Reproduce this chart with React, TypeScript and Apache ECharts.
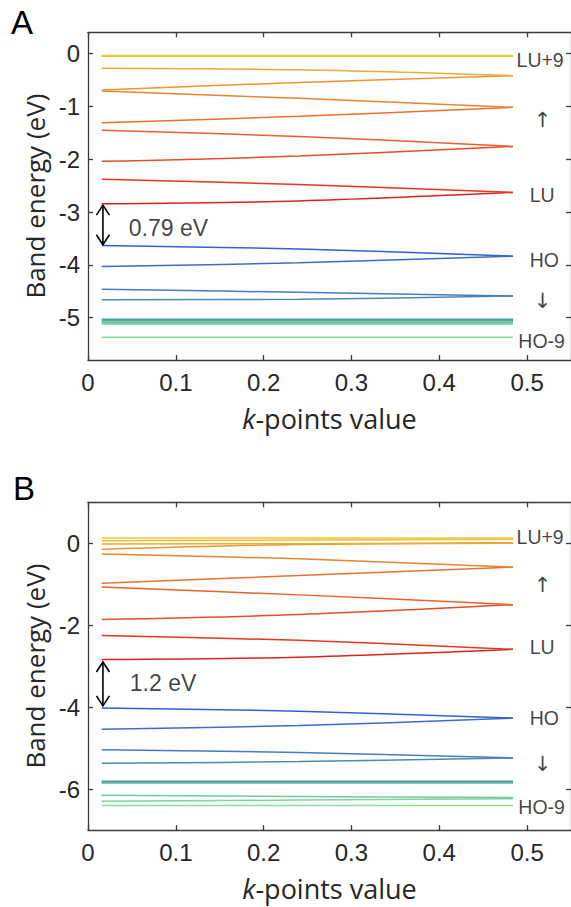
import React, { useEffect, useRef } from "react";
import * as echarts from "echarts";

// k-points sampled along each band (left end, middle, right end)
const K_POINTS = [0.0156, 0.24, 0.484];
const X_TICKS = [0, 0.1, 0.2, 0.3, 0.4, 0.5];
const X_RANGE = [0, 0.55];

// Panel A
const Y_RANGE_A = [-5.8, 0.4];
const Y_TICKS_A = [-5, -4, -3, -2, -1, 0];
// valence bands, HO-9 ... HO
const VALENCE_A = [
  [-5.37, -5.37, -5.37],
  [-5.12, -5.12, -5.12],
  [-5.1, -5.1, -5.1],
  [-5.08, -5.08, -5.08],
  [-5.05, -5.05, -5.05],
  [-5.03, -5.03, -5.03],
  [-4.66, -4.65, -4.59],
  [-4.46, -4.52, -4.59],
  [-4.03, -3.96, -3.835],
  [-3.635, -3.7, -3.835],
];
// conduction bands, LU ... LU+9
const CONDUCTION_A = [
  [-2.845, -2.79, -2.63],
  [-2.38, -2.48, -2.63],
  [-2.04, -1.94, -1.76],
  [-1.455, -1.57, -1.76],
  [-1.31, -1.19, -1.02],
  [-0.71, -0.85, -1.02],
  [-0.69, -0.55, -0.42],
  [-0.28, -0.31, -0.42],
  [-0.055, -0.055, -0.055],
  [-0.04, -0.04, -0.04],
];
const GAP_A = [0.017, -2.87, -3.62];
const GAP_TEXT_A = { text: "0.79 eV", k: 0.0464, e: -3.296 };
const LABELS_A = [
  { text: "LU+9", k: 0.488, e: -0.13, align: "left" },
  { text: "↑", k: 0.5176, e: -1.26, align: "center" },
  { text: "LU", k: 0.503, e: -2.67, align: "left" },
  { text: "HO", k: 0.503, e: -3.9, align: "left" },
  { text: "↓", k: 0.5176, e: -4.69, align: "center" },
  { text: "HO-9", k: 0.49, e: -5.44, align: "left" },
];

// Panel B
const Y_RANGE_B = [-7, 1];
const Y_TICKS_B = [-6, -4, -2, 0];
const VALENCE_B = [
  [-6.4, -6.4, -6.4],
  [-6.3, -6.27, -6.235],
  [-6.15, -6.18, -6.21],
  [-5.85, -5.85, -5.85],
  [-5.83, -5.83, -5.83],
  [-5.81, -5.81, -5.81],
  [-5.37, -5.33, -5.24],
  [-5.04, -5.11, -5.24],
  [-4.54, -4.45, -4.27],
  [-4.02, -4.1, -4.27],
];
const CONDUCTION_B = [
  [-2.84, -2.78, -2.59],
  [-2.25, -2.37, -2.59],
  [-1.86, -1.74, -1.5],
  [-1.07, -1.26, -1.5],
  [-0.975, -0.79, -0.585],
  [-0.26, -0.38, -0.585],
  [-0.145, -0.03, 0.0],
  [-0.02, -0.01, 0.01],
  [0.06, 0.08, 0.1],
  [0.13, 0.13, 0.13],
];
const GAP_B = [0.017, -2.9, -3.97];
const GAP_TEXT_B = { text: "1.2 eV", k: 0.0476, e: -3.42 };
const LABELS_B = [
  { text: "LU+9", k: 0.488, e: 0.165, align: "left" },
  { text: "↑", k: 0.5176, e: -1.03, align: "center" },
  { text: "LU", k: 0.503, e: -2.54, align: "left" },
  { text: "HO", k: 0.503, e: -4.26, align: "left" },
  { text: "↓", k: 0.5176, e: -5.38, align: "center" },
  { text: "HO-9", k: 0.49, e: -6.44, align: "left" },
];

const VALENCE_COLORS = [
  "#86e29a", "#7dd6a0", "#72c9a0", "#5fb5a0", "#55a8a0",
  "#4c9c9e", "#4b8bb3", "#477dbd", "#3e6dc8", "#3262d0",
];
const CONDUCTION_COLORS = [
  "#e0221c", "#e33a1f", "#e44e25", "#e6622a", "#e8722c",
  "#ea842f", "#ec9632", "#eeaa35", "#f0bc36", "#f2c832",
];

const TICK_FONT = "'Liberation Sans', Arial, sans-serif";
const NAME_FONT = "'Open Sans', 'Noto Sans', sans-serif";
const ARROW_FONT = "'DejaVu Sans', sans-serif";
const TEXT_COLOR = "#262626";
const AXIS_COLOR = "#3a3a3a";

function axisX(gridIndex: number, position: "bottom" | "top", showLabels: boolean) {
  return {
    type: "value",
    gridIndex,
    position,
    min: X_RANGE[0],
    max: X_RANGE[1],
    interval: 0.1,
    name: showLabels ? "{i|k}-points value" : "",
    nameLocation: "middle",
    nameGap: 45,
    nameTextStyle: {
      fontFamily: NAME_FONT,
      fontSize: 27,
      color: TEXT_COLOR,
      rich: {
        i: { fontFamily: NAME_FONT, fontSize: 27, fontStyle: "italic", color: TEXT_COLOR },
      },
    },
    axisLine: { show: true, onZero: false, lineStyle: { color: AXIS_COLOR, width: 1.3 } },
    axisTick: { show: true, inside: true, length: 5, customValues: X_TICKS, lineStyle: { color: AXIS_COLOR, width: 1.3 } },
    axisLabel: {
      show: showLabels,
      customValues: X_TICKS,
      margin: 10,
      fontFamily: TICK_FONT,
      fontSize: 24,
      color: TEXT_COLOR,
    },
    splitLine: { show: false },
  };
}

function axisY(gridIndex: number, position: "left" | "right", showLabels: boolean, range: number[], ticks: number[]) {
  return {
    type: "value",
    gridIndex,
    position,
    min: range[0],
    max: range[1],
    name: showLabels ? "Band energy (eV)" : "",
    nameLocation: "middle",
    nameGap: 38,
    nameTextStyle: { fontFamily: NAME_FONT, fontSize: 26, color: TEXT_COLOR },
    axisLine: { show: true, onZero: false, lineStyle: { color: AXIS_COLOR, width: 1.3 } },
    axisTick: { show: true, inside: true, length: 5, customValues: ticks, lineStyle: { color: AXIS_COLOR, width: 1.3 } },
    axisLabel: {
      show: showLabels,
      customValues: ticks,
      margin: 8,
      fontFamily: TICK_FONT,
      fontSize: 24,
      color: TEXT_COLOR,
    },
    splitLine: { show: false },
  };
}

function bandSeries(axisIndex: number, bands: number[][], colors: string[]) {
  return bands.map((band, i) => ({
    type: "line",
    xAxisIndex: axisIndex,
    yAxisIndex: axisIndex,
    data: K_POINTS.map((k, j) => [k, band[j]]),
    showSymbol: false,
    symbol: "none",
    smooth: 0.35,
    silent: true,
    lineStyle: { width: 1.5, color: colors[i] },
    z: 2,
  }));
}

function gapSeries(axisIndex: number, gap: number[], text: { text: string; k: number; e: number }) {
  return [
    {
      type: "custom",
      xAxisIndex: axisIndex,
      yAxisIndex: axisIndex,
      silent: true,
      z: 5,
      data: [gap],
      renderItem: (_params: any, api: any) => {
        const p1 = api.coord([api.value(0), api.value(1)]);
        const p2 = api.coord([api.value(0), api.value(2)]);
        const st = { stroke: "#000", lineWidth: 1.6, fill: null };
        return {
          type: "group",
          children: [
            { type: "line", shape: { x1: p1[0], y1: p1[1], x2: p2[0], y2: p2[1] }, style: st },
            {
              type: "polyline",
              shape: { points: [[p1[0] - 6.5, p1[1] + 10], [p1[0], p1[1]], [p1[0] + 6.5, p1[1] + 10]] },
              style: st,
            },
            {
              type: "polyline",
              shape: { points: [[p2[0] - 6.5, p2[1] - 10], [p2[0], p2[1]], [p2[0] + 6.5, p2[1] - 10]] },
              style: st,
            },
          ],
        };
      },
    },
    {
      type: "scatter",
      xAxisIndex: axisIndex,
      yAxisIndex: axisIndex,
      silent: true,
      symbolSize: 0,
      z: 5,
      data: [{ value: [text.k, text.e], name: text.text }],
      label: {
        show: true,
        position: [0, 0],
        align: "left",
        verticalAlign: "middle",
        formatter: "{b}",
        fontFamily: TICK_FONT,
        fontSize: 23,
        color: "#111",
      },
    },
  ];
}

function labelSeries(axisIndex: number, labels: { text: string; k: number; e: number; align: string }[]) {
  return labels.map((l) => {
    const isArrow = l.align === "center";
    return {
      type: "scatter",
      xAxisIndex: axisIndex,
      yAxisIndex: axisIndex,
      silent: true,
      symbolSize: 0,
      z: 6,
      data: [{ value: [l.k, l.e], name: l.text }],
      label: {
        show: true,
        position: [0, 0],
        align: l.align,
        verticalAlign: "middle",
        formatter: "{b}",
        fontFamily: isArrow ? ARROW_FONT : TICK_FONT,
        fontSize: isArrow ? 21 : 19.5,
        color: "#111111",
      },
    };
  });
}

export default function App() {
  const ref = useRef<HTMLDivElement>(null);
  useEffect(() => {
    if (!ref.current) return;
    const chart = echarts.init(ref.current, null, { renderer: "svg" });
    const option = {
      animation: false,
      backgroundColor: "#ffffff",
      grid: [
        { left: 88, right: -3, top: 32.3, bottom: 547 },
        { left: 88, right: -3, top: 502.3, bottom: 77 },
      ],
      xAxis: [
        axisX(0, "bottom", true),
        axisX(0, "top", false),
        axisX(1, "bottom", true),
        axisX(1, "top", false),
      ],
      yAxis: [
        axisY(0, "left", true, Y_RANGE_A, Y_TICKS_A),
        axisY(0, "right", false, Y_RANGE_A, Y_TICKS_A),
        axisY(1, "left", true, Y_RANGE_B, Y_TICKS_B),
        axisY(1, "right", false, Y_RANGE_B, Y_TICKS_B),
      ],
      graphic: [
        { type: "text", left: 11, top: 6, style: { text: "A", fontFamily: TICK_FONT, fontSize: 33, fill: "#000" } },
        { type: "text", left: 13, top: 472, style: { text: "B", fontFamily: TICK_FONT, fontSize: 33, fill: "#000" } },
      ],
      series: [
        ...bandSeries(0, VALENCE_A, VALENCE_COLORS),
        ...bandSeries(0, CONDUCTION_A, CONDUCTION_COLORS),
        ...gapSeries(0, GAP_A, GAP_TEXT_A),
        ...labelSeries(0, LABELS_A),
        ...bandSeries(2, VALENCE_B, VALENCE_COLORS),
        ...bandSeries(2, CONDUCTION_B, CONDUCTION_COLORS),
        ...gapSeries(2, GAP_B, GAP_TEXT_B),
        ...labelSeries(2, LABELS_B),
      ],
    };
    chart.setOption(option as any);
    return () => chart.dispose();
  }, []);
  return (
    <div
      ref={ref}
      style={{ position: "absolute", left: 0, top: 0, width: 571, height: 907, background: "#fff" }}
    />
  );
}
